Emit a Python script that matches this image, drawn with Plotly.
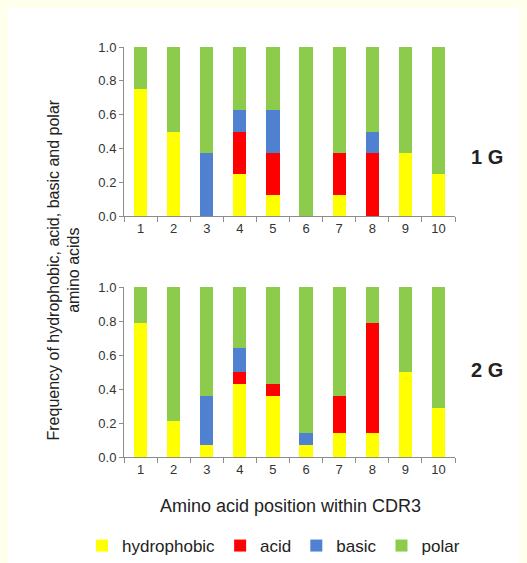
import plotly.graph_objects as go

positions = ["1", "2", "3", "4", "5", "6", "7", "8", "9", "10"]

# Panel 1 G
g1_hydrophobic = [0.75, 0.5, 0.0, 0.25, 0.125, 0.0, 0.125, 0.0, 0.375, 0.25]
g1_acid        = [0.0, 0.0, 0.0, 0.25, 0.25, 0.0, 0.25, 0.375, 0.0, 0.0]
g1_basic       = [0.0, 0.0, 0.375, 0.125, 0.25, 0.0, 0.0, 0.125, 0.0, 0.0]
g1_polar       = [0.25, 0.5, 0.625, 0.375, 0.375, 1.0, 0.625, 0.5, 0.625, 0.75]

# Panel 2 G
g2_hydrophobic = [0.786, 0.214, 0.071, 0.429, 0.357, 0.071, 0.143, 0.143, 0.5, 0.286]
g2_acid        = [0.0, 0.0, 0.0, 0.071, 0.071, 0.0, 0.214, 0.643, 0.0, 0.0]
g2_basic       = [0.0, 0.0, 0.286, 0.143, 0.0, 0.071, 0.0, 0.0, 0.0, 0.0]
g2_polar       = [0.214, 0.786, 0.643, 0.357, 0.572, 0.858, 0.643, 0.214, 0.5, 0.714]

series_names = ["hydrophobic", "acid", "basic", "polar"]
series_colors = ["#FFFF00", "#FF0000", "#4F81D0", "#8CCB4C"]

fig = go.Figure()
panels = [
    ("x", "y", [g1_hydrophobic, g1_acid, g1_basic, g1_polar], True),
    ("x2", "y2", [g2_hydrophobic, g2_acid, g2_basic, g2_polar], False),
]
for xa, ya, vals, show in panels:
    for name, color, v in zip(series_names, series_colors, vals):
        fig.add_trace(go.Bar(
            x=positions, y=v, name=name, marker=dict(color=color, line=dict(width=0)),
            xaxis=xa, yaxis=ya, showlegend=show,
        ))

W, H = 519, 555
L, R, T, B = 116, 72, 39, 106
PW, PH = W - L - R, H - T - B


def px(x):
    return (x - L) / PW


def py(y):
    return (H - B - y) / PH


font_family = "Liberation Sans, Arial, sans-serif"
axis_common = dict(showline=True, linecolor="#8c8c8c", linewidth=1, ticks="outside",
                   tickcolor="#8c8c8c", showgrid=False, zeroline=False, automargin=False,
                   tickfont=dict(size=13, color="#333333", family=font_family))

top_dom = [1 - 169 / PH, 1.0]
bot_dom = [0.0, 170 / PH]

fig.update_layout(
    width=W, height=H,
    margin=dict(l=L, r=R, t=T, b=B, autoexpand=False),
    barmode="stack", bargap=0.6,
    paper_bgcolor="white", plot_bgcolor="white",
    font=dict(family=font_family, color="#222222"),
    xaxis=dict(anchor="y", domain=[0, 1], tickson="boundaries", ticklen=5, **axis_common),
    yaxis=dict(anchor="x", domain=top_dom, range=[0, 1], dtick=0.2, tickformat=".1f", ticklen=4, **axis_common),
    xaxis2=dict(anchor="y2", domain=[0, 1], tickson="boundaries", ticklen=5, **axis_common),
    yaxis2=dict(anchor="x2", domain=bot_dom, range=[0, 1], dtick=0.2, tickformat=".1f", ticklen=4, **axis_common),
    legend=dict(orientation="h", x=px(74), xanchor="left", y=py(538), yanchor="middle",
                font=dict(size=17, color="#222222"), bgcolor="rgba(0,0,0,0)",
                itemwidth=30, tracegroupgap=0, traceorder="normal"),
    annotations=[
        dict(text="Frequency of hydrophobic, acid, basic and polar<br>amino acids",
             xref="paper", yref="paper", x=px(55.5), y=py(262),
             xanchor="center", yanchor="middle", textangle=-90, showarrow=False,
             font=dict(size=16, color="#222222")),
        dict(text="Amino acid position within CDR3", xref="paper", yref="paper",
             x=px(282), y=py(498), xanchor="center", yanchor="middle",
             showarrow=False, font=dict(size=18, color="#222222")),
        dict(text="<b>1 G</b>", xref="paper", yref="paper", x=px(479),
             y=py(149), xanchor="center", yanchor="middle", showarrow=False,
             font=dict(size=20, color="#222222")),
        dict(text="<b>2 G</b>", xref="paper", yref="paper", x=px(479),
             y=py(362), xanchor="center", yanchor="middle", showarrow=False,
             font=dict(size=20, color="#222222")),
    ],
)

fig.write_html("out.html", post_script="document.body.style.backgroundColor='#FFFFEE';")
